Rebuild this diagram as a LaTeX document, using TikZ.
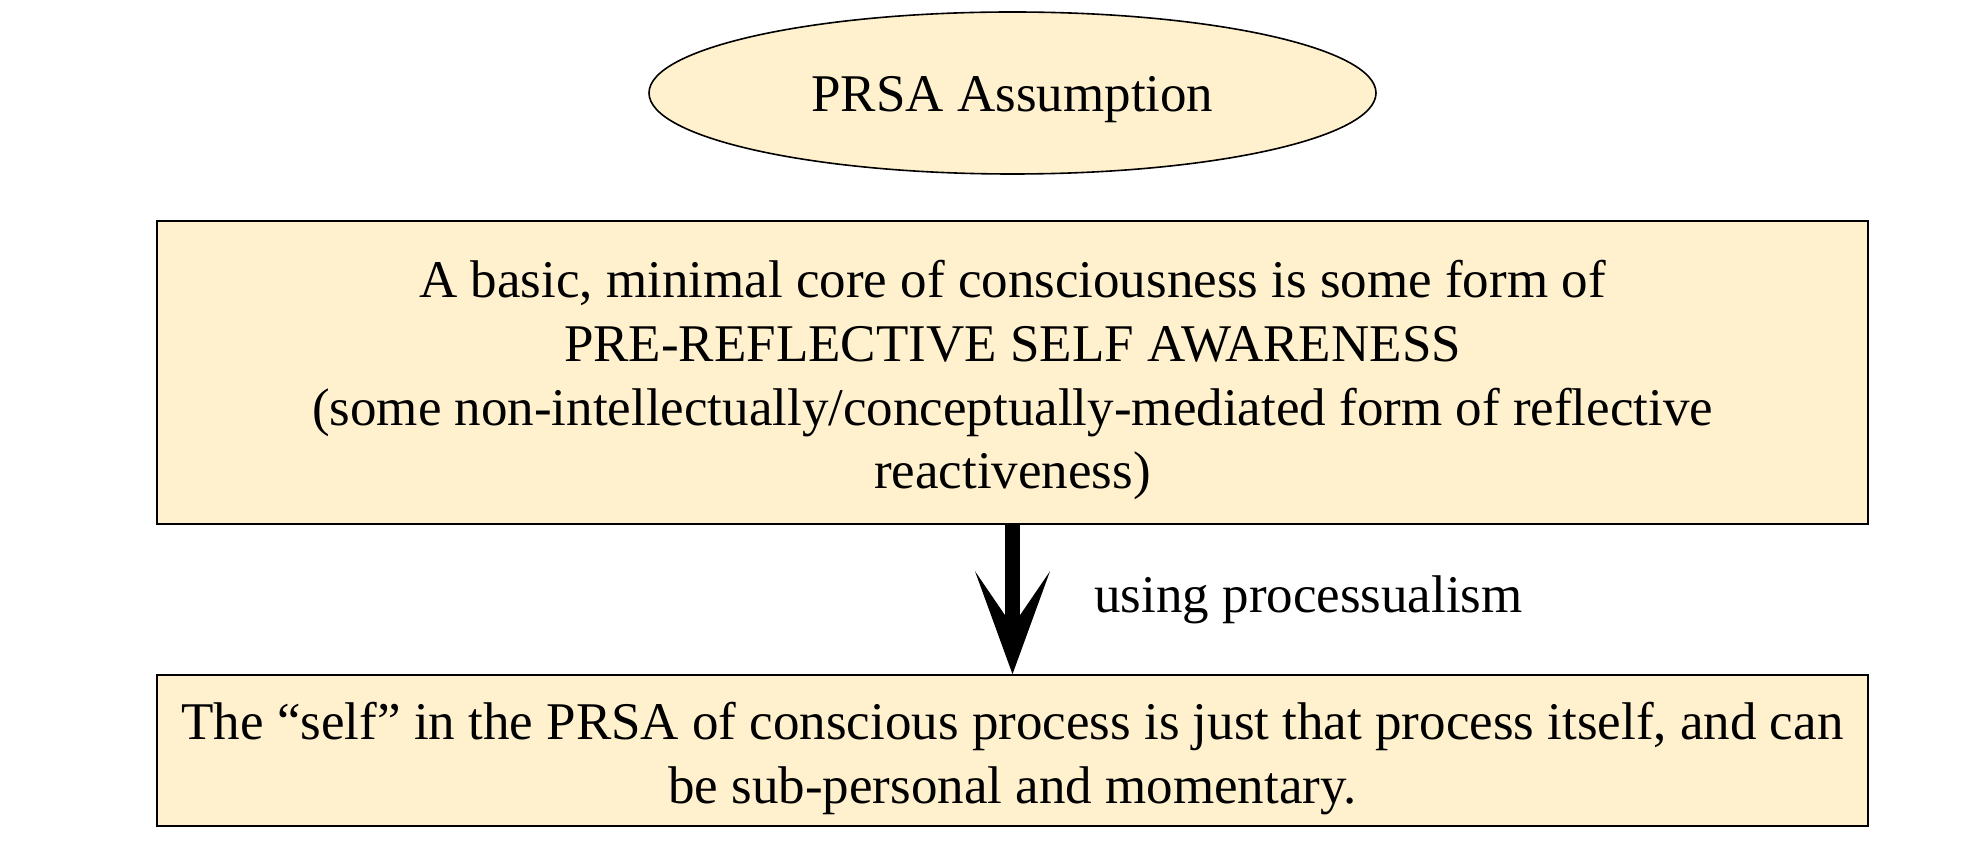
\documentclass[tikz,border=0pt]{standalone}
\usepackage{fontspec}
\setmainfont{Liberation Serif}
\usetikzlibrary{arrows.meta,shapes.geometric}
\definecolor{boxfill}{HTML}{FFF1CE}
\begin{document}
\begin{tikzpicture}[x=1pt,y=1pt,
  every node/.style={font=\fontsize{26.5}{32}\selectfont, inner sep=0pt},
  oval/.style={ellipse, draw=black, line width=0.8pt, fill=boxfill,
    minimum width=363.5pt, minimum height=81pt},
  panel/.style={rectangle, draw=black, line width=0.8pt, fill=boxfill,
    minimum width=855.5pt, align=center},
  bigarrow/.style={line width=7.5pt,
    -{Stealth[length=51.5pt, width=37.5pt, inset=27.5pt, line width=0pt]}}
]
\useasboundingbox (0,0) rectangle (985.5,-427.5);

% top oval
\node[oval] (assume) at (506.25,-46.5) {};
\node[anchor=base] (assumetext) at (506.25,-56) {PRSA Assumption};

% the two statement panels (text placed by the baseline of its last line)
\node[panel, minimum height=151.5pt] (core) at (506.25,-186.25) {};
\node[anchor=base, align=center] (coretext) at (506.25,-244.5)
  {A basic, minimal core of consciousness is some form of\\
   PRE-REFLECTIVE SELF AWARENESS\\
   (some non-intellectually/conceptually-mediated form of reflective\\
   reactiveness)};

\node[panel, minimum height=75.5pt] (self) at (506.25,-375.25) {};
\node[anchor=base, align=center] (selftext) at (506.25,-401.5)
  {The “self” in the PRSA of conscious process is just that process itself, and can\\
   be sub-personal and momentary.};

% connector
\draw[bigarrow] (core.south) -- (self.north);
\node[anchor=base west] (via) at (547,-306) {using processualism};
\end{tikzpicture}
\end{document}
